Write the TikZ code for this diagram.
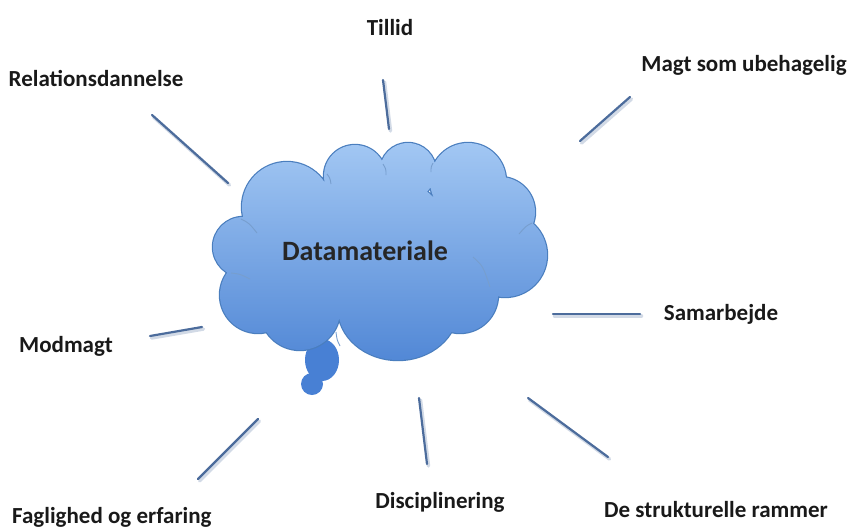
\documentclass[tikz,border=0pt]{standalone}
\usepackage{fontspec}
\setmainfont{Carlito}
\definecolor{cloudtop}{RGB}{162,199,243}
\definecolor{cloudbot}{RGB}{82,136,214}
\definecolor{cloudedge}{RGB}{74,126,190}
\definecolor{bubble}{RGB}{72,128,212}
\definecolor{spoke}{RGB}{76,108,156}
\tikzset{
  lbl/.style={inner sep=0pt, anchor=base, font=\fontsize{23}{27}\selectfont\bfseries, text=black!90},
  spokeline/.style={draw=spoke, line width=2.2pt, line cap=round},
  spokeshadow/.style={draw=spoke!25, line width=3.5pt, line cap=round},
  innerarc/.style={draw=cloudedge!75, line width=0.9pt},
}
\begin{document}
\begin{tikzpicture}[x=1pt, y=-1pt]
\useasboundingbox (0,0) rectangle (857,531);
% thought bubbles
\fill[bubble] (322,360) ellipse (17 and 21);
\fill[bubble] (312,384) circle (11);
% cloud outline (drawn first, then covered by shading)
\def\puffs{(243,247) circle (30) (287,207) circle (45) (355,176) circle (31)
  (408,171) circle (28) (468,181) circle (38) (500,212) circle (35)
  (505,255) circle (42) (460,295) circle (38) (398,308) ellipse (60 and 52)
  (300,310) circle (40) (258,295) circle (38) (380,250) circle (75)
  (300,255) circle (50) (460,240) circle (50)}
\draw[cloudedge, line width=2.4pt] \puffs;
\shade[nonzero rule, top color=cloudtop, bottom color=cloudbot] \puffs;
% faint inner arcs
\draw[innerarc] (241,219) .. controls (249,223) .. (257,233);
\draw[innerarc] (327,174) .. controls (330,178) .. (331,184);
\draw[innerarc] (383,164) .. controls (386,169) .. (386,175);
\draw[innerarc] (433,163) .. controls (431,167) .. (431,172);
\draw[innerarc] (532,223) .. controls (526,226) .. (519,234);
\draw[innerarc] (473,257) .. controls (483,266) .. (490,287);
\draw[innerarc] (340,346) .. controls (337,340) .. (336,332);
\draw[innerarc] (231,273) .. controls (240,274) .. (250,279);
\node[lbl, font=\fontsize{28}{32}\selectfont\bfseries, text=black!85] (dm) at (365,260) {Datamateriale};
% labels
\node[lbl] (til) at (390,35) {Tillid};
\node[lbl] (rel) at (96,86) {Relationsdannelse};
\node[lbl] (mag) at (744,71) {Magt som ubehagelig};
\node[lbl] (sam) at (721,320) {Samarbejde};
\node[lbl] (mod) at (66,352) {Modmagt};
\node[lbl, anchor=base west] (fag) at (12,523) {Faglighed og erfaring};
\node[lbl] (dis) at (440,508) {Disciplinering};
\node[lbl] (str) at (716,517) {De strukturelle rammer};
% spoke end points
\coordinate (rA) at (152,115); \coordinate (rB) at (228,183);
\coordinate (tA) at (383,80);  \coordinate (tB) at (389,129);
\coordinate (mA) at (630,97);  \coordinate (mB) at (580,141);
\coordinate (sA) at (553,314); \coordinate (sB) at (640,314);
\coordinate (oA) at (150,336); \coordinate (oB) at (202,327);
\coordinate (fA) at (198,479); \coordinate (fB) at (258,419);
\coordinate (dA) at (419,398); \coordinate (dB) at (427,464);
\coordinate (kA) at (528,398); \coordinate (kB) at (608,457);
\foreach \a/\b in {rA/rB,tA/tB,mA/mB,sA/sB,oA/oB,fA/fB,dA/dB,kA/kB}{
  \draw[spokeshadow] ([shift={(1.5,2)}]\a) -- ([shift={(1.5,2)}]\b);
  \draw[spokeline] (\a) -- (\b);
}
\end{tikzpicture}
\end{document}
